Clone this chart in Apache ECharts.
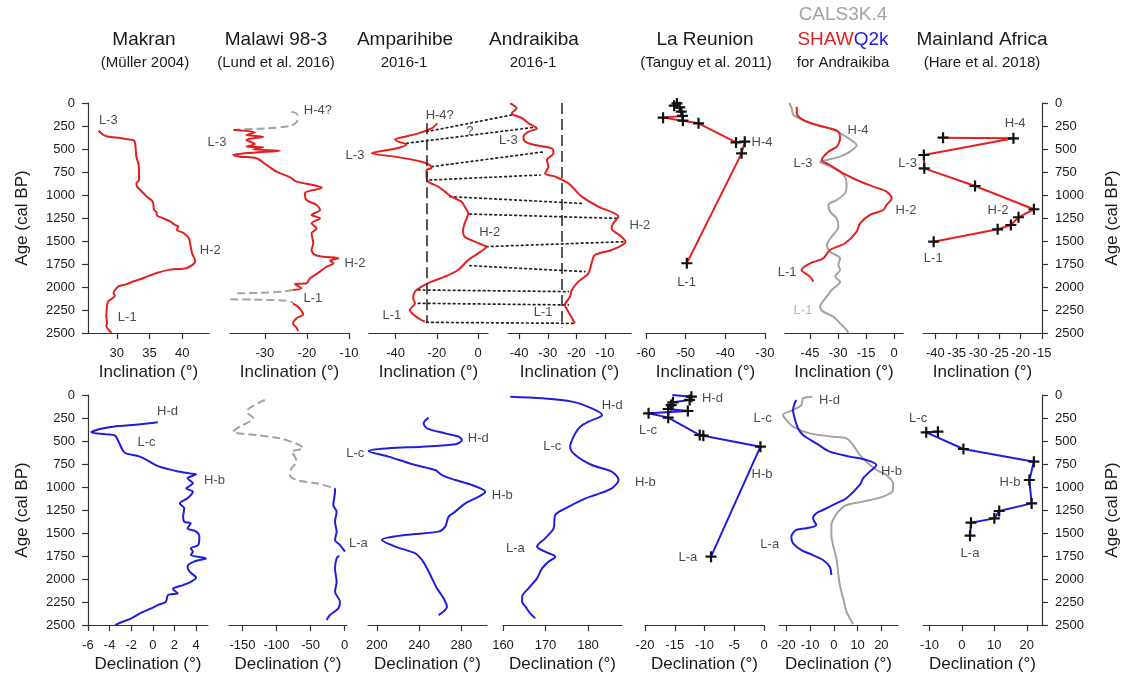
<!DOCTYPE html>
<html>
<head>
<meta charset="utf-8">
<script src="https://cdn.jsdelivr.net/npm/echarts@6/dist/echarts.min.js"></script>
<style>
  html, body { margin: 0; padding: 0; background: #fff; }
  #chart { width: 1125px; height: 679px; }
</style>
</head>
<body>
<div id="chart"></div>
<script>
// ---------- data: [value, age (cal BP)] ----------
// Inclination records
const makranInc = [[27.2,301],[28.0,348],[29.0,370],[30.5,380],[32.0,398],[32.6,406],[32.8,435],[33.0,583],[33.3,660],[33.4,728],[33.4,837],[33.0,873],[33.1,909],[33.6,945],[34.6,1018],[35.5,1072],[35.7,1163],[36.1,1190],[36.1,1217],[37.1,1253],[38.2,1290],[38.9,1325],[39.4,1341],[39.2,1377],[40.2,1413],[41.0,1467],[41.2,1521],[41.5,1630],[42.0,1720],[40.7,1793],[38.2,1811],[36.1,1847],[34.1,1902],[32.6,1938],[31.3,1974],[30.3,1992],[30.0,2010],[29.5,2065],[29.7,2094],[29.2,2130],[28.7,2155],[28.5,2210],[28.4,2318],[28.5,2391],[28.4,2427],[28.7,2460],[29.2,2500]];
const malawiIncGrayTop = [[-23.7,94],[-22.2,130],[-22.4,203],[-24.0,250],[-29.6,275],[-35.2,286],[-37.5,293]];
const malawiIncRed = [[-37.5,293],[-32.4,319],[-34.4,348],[-30.4,366],[-34.4,402],[-32.4,446],[-34.4,475],[-30.4,482],[-32.8,504],[-26.4,518],[-32.8,540],[-37.5,565],[-36.0,583],[-32.0,601],[-29.6,674],[-27.2,746],[-24.0,808],[-22.5,855],[-18.5,891],[-16.5,920],[-20.5,981],[-20.1,1054],[-17.7,1108],[-16.9,1163],[-18.9,1217],[-16.9,1253],[-18.9,1308],[-17.7,1362],[-18.9,1417],[-18.5,1525],[-18.9,1598],[-18.1,1652],[-16.1,1670],[-12.5,1688],[-14.5,1714],[-13.7,1743],[-15.3,1779],[-16.9,1833],[-19.3,1906],[-20.1,1960],[-22.9,1967],[-21.3,2014],[-23.3,2032]];
const malawiIncGrayMid1 = [[-23.3,2032],[-25.5,2048],[-30.0,2062],[-37.5,2069]];
const malawiIncGrayMid2 = [[-38.2,2134],[-30.0,2140],[-25.2,2148],[-23.6,2165],[-23.3,2180]];
const malawiIncRedLower = [[-23.3,2180],[-22.0,2220],[-20.9,2300],[-22.5,2340],[-23.3,2400],[-22.5,2440],[-22.1,2480]];
const amparihibeInc = [[-19.7,221],[-22.6,276],[-29.0,330],[-35.5,366],[-40.3,395],[-38.7,420],[-34.7,450],[-40.0,495],[-51.6,547],[-40.3,583],[-27.4,638],[-23.4,674],[-22.6,710],[-25.0,728],[-25.0,801],[-24.2,855],[-19.4,909],[-16.1,963],[-12.9,1018],[-8.1,1072],[-6.5,1127],[-4.8,1199],[-6.5,1308],[-7.3,1380],[-6.5,1453],[-1.6,1507],[2.4,1545],[4.0,1561],[0.0,1634],[-4.8,1706],[-9.7,1815],[-16.1,1887],[-22.6,1942],[-27.4,1996],[-30.6,2050],[-31.5,2123],[-30.6,2177],[-33.1,2250],[-29.0,2340],[-25.8,2377]];
const andraikibaInc = [[-43.1,4],[-40.9,58],[-42.6,112],[-39.0,165],[-36.7,221],[-33.8,276],[-36.7,312],[-38.5,366],[-37.9,420],[-34.4,457],[-28.6,493],[-28.0,547],[-30.3,620],[-29.8,692],[-30.9,765],[-27.4,801],[-22.8,873],[-18.1,1018],[-12.3,1127],[-5.3,1235],[-7.1,1308],[-7.7,1362],[-4.2,1453],[-2.8,1507],[-7.7,1598],[-13.5,1652],[-14.7,1743],[-15.8,1851],[-19.3,1942],[-21.6,2032],[-22.2,2105],[-24.0,2195],[-22.8,2268],[-20.5,2395]];
const reunionInc = [[-52.2,5],[-52.9,29],[-51.5,47],[-51.1,94],[-50.8,141],[-55.7,159],[-50.7,192],[-46.75,221],[-37.3,428],[-35.1,420],[-35.9,547],[-49.7,1742]];
const calsInc = [[-56.1,0],[-54.8,58],[-53.9,130],[-48.6,185],[-41.4,239],[-34.3,276],[-27.1,348],[-21.8,420],[-20.0,457],[-23.6,529],[-28.9,583],[-36.0,620],[-39.6,638],[-36.0,674],[-30.7,728],[-26.3,801],[-25.4,909],[-26.3,981],[-30.7,1054],[-35.2,1108],[-34.3,1181],[-30.7,1254],[-29.8,1344],[-33.4,1453],[-36.0,1543],[-34.3,1616],[-28.9,1688],[-29.8,1761],[-28.9,1815],[-31.6,1887],[-28.9,1942],[-33.4,2032],[-36.0,2105],[-39.6,2214],[-37.9,2268],[-32.5,2322],[-28.9,2395],[-25.4,2467],[-24.5,2496]];
const shawInc = [[-52.1,40],[-52.1,112],[-48.6,185],[-41.4,239],[-34.3,276],[-29.8,312],[-28.9,366],[-30.7,475],[-35.2,529],[-38.75,620],[-34.3,674],[-27.1,765],[-20.0,837],[-11.1,909],[-4.0,963],[-1.25,1036],[-4.0,1108],[-5.7,1163],[-12.9,1217],[-18.2,1308],[-20.0,1398],[-26.25,1525],[-34.3,1598],[-37.9,1688],[-45.0,1743],[-49.5,1815],[-45.0,1887],[-43.2,1942]];
const mainlandInc = [[-38.2,377],[-21.7,384],[-42.7,565],[-42.6,710],[-30.7,902],[-16.9,1155],[-20.5,1242],[-22.3,1326],[-25.4,1373],[-40.4,1507]];

// Declination records
const makranDec = [[0.46,297],[-1.2,319],[-3.7,344],[-4.9,370],[-5.7,406],[-4.3,428],[-3.5,442],[-3.1,525],[-2.8,598],[-2.5,634],[-1.2,670],[-0.3,725],[0.6,779],[2.15,826],[3.4,852],[4.0,862],[3.2,906],[3.7,960],[3.1,1014],[3.7,1051],[3.2,1123],[2.5,1178],[2.9,1232],[2.8,1322],[2.9,1377],[3.5,1395],[3.2,1449],[4.0,1485],[4.3,1540],[4.2,1631],[3.5,1667],[3.7,1703],[3.5,1740],[4.9,1776],[3.8,1812],[3.2,1866],[3.4,1921],[4.0,1986],[3.5,2030],[2.8,2066],[1.85,2109],[2.3,2156],[1.4,2174],[1.2,2247],[0.46,2283],[-0.15,2319],[-1.2,2374],[-2.0,2428],[-2.8,2465],[-3.5,2501]];
const malawiDecGray = [[-117.2,54],[-144,181],[-134,254],[-154,344],[-163.7,399],[-129,435],[-95,471],[-65.7,544],[-61,580],[-78,616],[-73,670],[-70.6,725],[-78,797],[-80.4,869],[-70.6,924],[-41,960],[-14.2,1014]];
const malawiDecBlue1 = [[-14.2,1014],[-14.2,1051],[-16.7,1196],[-11.8,1268],[-14.2,1377],[-11.8,1485],[-14.2,1576],[-6.9,1631],[0.5,1703]];
const malawiDecBlue2 = [[-8.0,1745],[-11.8,1776],[-14.2,1885],[-11.8,2030],[-14.2,2138],[-6.9,2247],[-9.3,2319],[-21.6,2392],[-26.5,2446]];
const amparihibeDec = [[249,246],[244.3,308],[247.4,362],[264.8,417],[277.5,453],[280.6,489],[274.3,536],[242.7,562],[211,580],[192.1,608],[211,670],[236.4,761],[255.3,815],[261.7,870],[274.3,924],[290.1,978],[302.8,1051],[296.5,1105],[283.8,1178],[274.3,1268],[268,1322],[264.8,1431],[258.5,1485],[226.9,1522],[204.7,1576],[217.4,1648],[236.4,1721],[242.7,1793],[247.4,1884],[252.2,1993],[256.9,2101],[263.2,2210],[266.4,2301],[258.5,2392]];
const andraikibaDec = [[161.7,18],[169.2,36],[176.2,72],[180.9,145],[183.3,217],[180.1,290],[178.2,344],[177,417],[175.8,562],[177,652],[180.9,761],[185.6,833],[187.2,924],[185.6,1014],[181.7,1087],[179.4,1123],[174.7,1232],[172.3,1304],[171.9,1449],[169.9,1558],[168,1648],[169.9,1703],[172.3,1757],[170.7,1812],[169.2,1884],[168,1993],[166,2101],[164.5,2192],[164.5,2247],[165.3,2301],[166.4,2374],[167.6,2428]];
const reunionDec = [[-15.4,0],[-12.2,18],[-12.5,54],[-15.3,80],[-15.6,109],[-16.1,152],[-12.8,174],[-19.4,199],[-16.1,246],[-10.8,435],[-10.2,442],[-0.6,562],[-8.9,1757]];
const calsDec = [[-9.05,18],[-13,36],[-13.7,109],[-17.2,163],[-21.4,217],[-20,272],[-17.2,344],[-10.2,417],[-0.35,453],[5.3,471],[8.1,544],[10.9,652],[13.7,725],[17.9,815],[22.1,870],[24.9,960],[24.9,1032],[20.7,1105],[12.3,1159],[5.3,1196],[2.5,1250],[0.35,1322],[-1.05,1413],[-1.05,1522],[-0.35,1631],[1.05,1776],[1.75,1921],[2.5,2066],[3.9,2210],[5.3,2355],[6.7,2428],[8.1,2493]];
const shawDec = [[-15.8,54],[-16.5,91],[-17.2,163],[-16.5,254],[-15.1,362],[-13,435],[-7.4,525],[-1.75,616],[6.7,670],[13.7,707],[17.9,761],[15.1,833],[12.3,906],[10.9,978],[5.3,1123],[1.05,1178],[-4.6,1250],[-7.4,1286],[-8.8,1341],[-7.4,1413],[-11.6,1449],[-15.8,1467],[-17.9,1540],[-17.2,1612],[-13.7,1685],[-8.8,1740],[-4.6,1794],[-1.75,1866],[-1.05,1957]];
const mainlandDec = [[-7.4,399],[-11,406],[0.46,587],[22.2,725],[20.8,924],[21.5,1178],[11.5,1261],[10,1341],[2.8,1388],[2.5,1529]];

// Tie points between Amparihibe and Andraikiba inclination
const tieAmparihibe = [[-25,312],[-34.7,438],[-22.6,692],[-23.4,837],[-13.7,1018],[-4,1207],[4,1561],[-4,1768],[-29,2032],[-29,2177],[-25,2384]];
const tieAndraikiba = [[-42.6,130],[-35,265],[-30.9,529],[-32.7,783],[-18.1,1091],[-5.9,1254],[-3,1507],[-17,1833],[-22.8,2050],[-22.8,2195],[-20.5,2395]];
const referenceIncLine = -25;

// Tick labels for each x axis
const ticksTop = [[30,35,40],[-30,-20,-10],[-40,-20,0],[-40,-30,-20,-10],[-60,-50,-40,-30],[-45,-30,-15,0],[-40,-35,-30,-25,-20,-15]];
const ticksBottom = [[-6,-4,-2,0,2,4],[-150,-100,-50,0],[200,240,280],[160,170,180],[-20,-15,-10,-5,0],[-20,-10,0,10,20],[-10,0,10,20]];

// Feature labels: [text, value, age]
const notesTop = [
  [['L-3',28.7,185],['H-2',44.3,1598],['L-1',31.6,2326]],
  [['H-4?',-17.4,76],['L-3',-41.4,424],['H-2',-8.6,1739],['L-1',-18.6,2120]],
  [['H-4?',-18.6,130],['?',-4.0,304],['L-3',-59.7,565],['H-2',5.6,1402],['L-1',-41.8,2304]],
  [['L-3',-43.8,402],['H-2',2.2,1326],['L-1',-31.6,2272]],
  [['H-4',-30.75,424],['L-1',-49.75,1946]],
  [['H-4',-19.3,293],['L-3',-48.75,652],['H-2',6.4,1166],['L-1',-57.3,1837]],
  [['H-4',-21.3,217],['L-3',-46.5,652],['H-2',-25.3,1163],['L-1',-40.5,1685]]
];
const notesGrayTop = [['L-1',-48.75,2250]];
const notesBottom = [
  [['H-d',1.36,174],['L-c',-0.59,511],['H-b',5.7,924]],
  [],
  [['H-d',296.1,467],['L-c',179.4,630],['H-b',318.9,1087],['L-a',182.3,1609]],
  [['H-d',185.7,109],['L-c',171.6,554],['H-b',193.5,946],['L-a',162.9,1663]],
  [['H-d',-8.67,33],['L-c',-19.5,380],['H-b',-0.33,859],['L-a',-12.8,1761]],
  [['H-d',-1.8,54],['L-c',-30,250],['H-b',24.3,826],['L-a',-27,1620]],
  [['L-c',-13.5,250],['H-b',14.8,946],['L-a',2.5,1717]]
];

// ---------- layout ----------
const FONT = '"Liberation Sans", Arial, Helvetica, sans-serif';
const RED = '#e3201f', BLUE = '#1e1ee0', GRAY = '#a3a3a3', INK = '#1a1a1a';
const PLUS = 'path://M4,0H6V4H10V6H6V10H4V6H0V4H4Z';

const panelsTop = [
  {l:88, w:121, min:25.6, max:44.1, side:'left'},
  {l:230, w:119, min:-38.3, max:-10},
  {l:369, w:119, min:-52.9, max:4.8},
  {l:508, w:123, min:-43.9, max:-0.9},
  {l:646, w:119, min:-60, max:-30},
  {l:785, w:118, min:-58.4, max:4.8},
  {l:923, w:119, min:-42.9, max:-15, side:'right'}
];
const panelsBottom = [
  {l:88, w:120, min:-6, max:5.1, side:'left'},
  {l:229, w:118, min:-169.7, max:3.4},
  {l:368, w:119, min:191.5, max:304.4},
  {l:503, w:119, min:160, max:188},
  {l:645, w:119, min:-20, max:0},
  {l:779, w:119, min:-23.1, max:27},
  {l:923, w:119, min:-12, max:24.7, side:'right'}
];

const grids = [], xAxes = [], yAxes = [], series = [];
const axisLineStyle = {color: '#333', width: 1.2};

function addPanel(p, top, ticks, name) {
  const idx = grids.length;
  grids.push({left: p.l, top: top, width: p.w, height: 230, containLabel: false});
  xAxes.push({
    type: 'value', gridIndex: idx, min: p.min, max: p.max, position: 'bottom',
    axisLine: {show: true, onZero: false, lineStyle: axisLineStyle},
    axisTick: {show: true, length: 6, customValues: ticks, lineStyle: axisLineStyle},
    axisLabel: {customValues: ticks, fontSize: 13, color: INK, margin: 14, fontFamily: FONT},
    splitLine: {show: false},
    name: name, nameLocation: 'middle', nameGap: 31,
    nameTextStyle: {fontSize: 17, color: INK, fontFamily: FONT}
  });
  yAxes.push({
    type: 'value', gridIndex: idx, min: 0, max: 2500, interval: 250, inverse: true,
    show: !!p.side, position: p.side || 'left',
    axisLine: {show: true, onZero: false, lineStyle: axisLineStyle},
    axisTick: {show: true, length: 6, lineStyle: axisLineStyle},
    axisLabel: {fontSize: 13, color: INK, margin: 13, fontFamily: FONT, formatter: v => String(v)},
    splitLine: {show: false},
    name: p.side ? 'Age (cal BP)' : '', nameLocation: 'middle', nameRotate: 90,
    nameGap: p.side === 'right' ? 62 : 57,
    nameTextStyle: {fontSize: 17, color: INK, fontFamily: FONT}
  });
  return idx;
}

panelsTop.forEach((p, i) => addPanel(p, 103, ticksTop[i], 'Inclination (°)'));
panelsBottom.forEach((p, i) => addPanel(p, 395, ticksBottom[i], 'Declination (°)'));

function line(idx, data, color, extra) {
  return Object.assign({
    type: 'line', xAxisIndex: idx, yAxisIndex: idx, data: data,
    symbol: 'none', silent: true, clip: false, animation: false, smooth: 0.3,
    lineStyle: {color: color, width: 2}, itemStyle: {color: color}, z: 3
  }, extra || {});
}
const dashed = {lineStyle: {color: GRAY, width: 2, type: [8, 4]}};
const crosses = {symbol: PLUS, symbolSize: 11, showAllSymbol: true, smooth: false, itemStyle: {color: '#111'}, z: 4};

// top row
series.push(line(0, makranInc, RED));
series.push(line(1, malawiIncGrayTop, GRAY, dashed));
series.push(line(1, malawiIncRed, RED));
series.push(line(1, malawiIncGrayMid1, GRAY, dashed));
series.push(line(1, malawiIncGrayMid2, GRAY, dashed));
series.push(line(1, malawiIncRedLower, RED));
series.push(line(2, amparihibeInc, RED, {
  markLine: {symbol: 'none', silent: true, label: {show: false}, animation: false,
    lineStyle: {type: [11, 5], color: '#222', width: 1.5},
    data: [[{coord: [referenceIncLine, 221]}, {coord: [referenceIncLine, 2380]}]]}
}));
series.push(line(3, andraikibaInc, RED, {
  markLine: {symbol: 'none', silent: true, label: {show: false}, animation: false,
    lineStyle: {type: [11, 5], color: '#222', width: 1.5},
    data: [[{coord: [referenceIncLine, 0]}, {coord: [referenceIncLine, 2440]}]]}
}));
series.push(line(4, reunionInc, RED, crosses));
series.push(line(5, calsInc, GRAY));
series.push(line(5, shawInc, RED));
series.push(line(6, mainlandInc, RED, crosses));

// bottom row
series.push(line(7, makranDec, BLUE));
series.push(line(8, malawiDecGray, GRAY, dashed));
series.push(line(8, malawiDecBlue1, BLUE));
series.push(line(8, malawiDecBlue2, BLUE));
series.push(line(9, amparihibeDec, BLUE));
series.push(line(10, andraikibaDec, BLUE));
series.push(line(11, reunionDec.map((d, i) => i === 0 ? {value: d, symbol: 'none'} : d), BLUE, crosses));
series.push(line(12, calsDec, GRAY));
series.push(line(12, shawDec, BLUE));
series.push(line(13, mainlandDec, BLUE, crosses));

// feature labels
function notes(idx, list, color) {
  if (!list.length) return;
  series.push({
    type: 'scatter', xAxisIndex: idx, yAxisIndex: idx, silent: true, clip: false, animation: false,
    symbolSize: 0, z: 6,
    data: list.map(n => ({name: n[0], value: [n[1], n[2]]})),
    label: {show: true, position: 'inside', formatter: '{b}', fontSize: 13, color: color || INK, fontFamily: FONT}
  });
}
notesTop.forEach((l, i) => notes(i, l));
notes(5, notesGrayTop, GRAY);
notesBottom.forEach((l, i) => notes(7 + i, l));

const chart = echarts.init(document.getElementById('chart'), null, {renderer: 'canvas'});
chart.setOption({
  animation: false,
  backgroundColor: '#fff',
  grid: grids, xAxis: xAxes, yAxis: yAxes, series: series
});

// column headers
function head(x, y, text, size, color) {
  return {type: 'text', x: x, y: y, silent: true,
    style: {text: text, fontSize: size, fontFamily: FONT, fill: color || INK, align: 'center', verticalAlign: 'middle'}};
}
const headers = [
  head(144, 40, 'Makran', 19), head(145, 63, '(Müller 2004)', 15),
  head(276, 40, 'Malawi 98-3', 19), head(276, 63, '(Lund et al. 2016)', 15),
  head(405, 40, 'Amparihibe', 19), head(404, 63, '2016-1', 15),
  head(534, 40, 'Andraikiba', 19), head(533, 63, '2016-1', 15),
  head(705, 40, 'La Reunion', 19), head(706, 63, '(Tanguy et al. 2011)', 15),
  head(843, 15, 'CALS3K.4', 19, GRAY),
  {type: 'text', x: 843, y: 40, silent: true,
    style: {text: '{r|SHAW}{b|Q2k}', fontSize: 19, fontFamily: FONT, align: 'center', verticalAlign: 'middle',
      rich: {r: {fill: RED, fontSize: 19, fontFamily: FONT}, b: {fill: BLUE, fontSize: 19, fontFamily: FONT}}}},
  head(843, 63, 'for Andraikiba', 15),
  head(982, 40, 'Mainland Africa', 19), head(982, 63, '(Hare et al. 2018)', 15)
];

// dotted tie lines between the two lake records, placed through each panel's axes
const ties = tieAmparihibe.map((a, i) => {
  const p1 = chart.convertToPixel({xAxisIndex: 2, yAxisIndex: 2}, a);
  const p2 = chart.convertToPixel({xAxisIndex: 3, yAxisIndex: 3}, tieAndraikiba[i]);
  return {type: 'line', silent: true, z: 2,
    shape: {x1: p1[0], y1: p1[1], x2: p2[0], y2: p2[1]},
    style: {stroke: '#222', lineWidth: 1.7, lineDash: [1.7, 3.3], lineCap: 'round'}};
});

chart.setOption({graphic: headers.concat(ties)});
</script>
</body>
</html>
